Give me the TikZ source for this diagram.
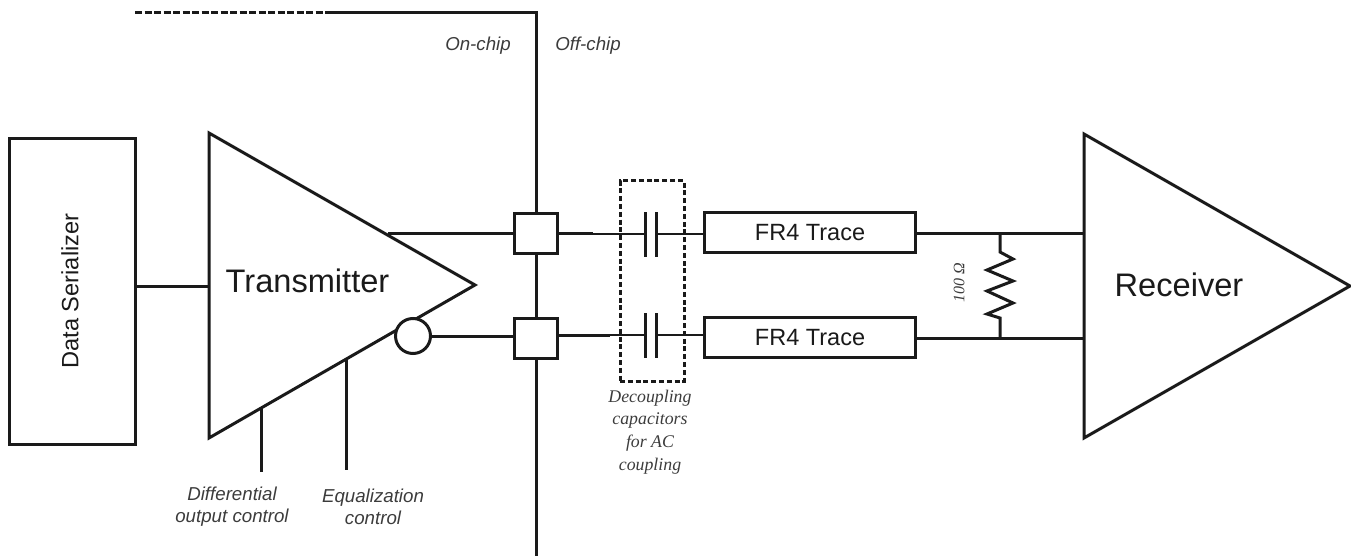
\documentclass[tikz,border=0pt]{standalone}
\usepackage{fontspec}
\setmainfont{Liberation Sans}
\newfontfamily\serifit[Ligatures=TeX]{Liberation Serif}
\definecolor{ink}{HTML}{1A1A1A}
\tikzset{
  wire/.style={draw=ink,line width=3pt},
  thin wire/.style={draw=ink,line width=2.2pt},
  padn/.style={draw=ink,line width=3pt,fill=white,inner sep=0pt,minimum width=43pt,minimum height=40pt},
  tracen/.style={draw=ink,line width=3pt,fill=white,inner sep=0pt,minimum width=211pt,minimum height=40pt,font=\fontsize{23.5}{26}\selectfont,text=ink},
  lab/.style={font=\fontsize{18.7}{22}\selectfont\itshape,text=ink!85,align=center,inner sep=0pt},
  serlab/.style={font=\fontsize{17.8}{22.6}\serifit\itshape,text=ink!85,align=center,inner sep=0pt},
  bigtext/.style={font=\fontsize{32.6}{36}\selectfont,text=ink}
}
\begin{document}
\begin{tikzpicture}[x=1pt,y=-1pt]
\useasboundingbox (0,0) rectangle (1351,556);
% chip boundary
\coordinate (bstart) at (135,13);
\coordinate (bmid) at (330,13);
\coordinate (bcorner) at (536,13);
\coordinate (bend) at (536,556);
\draw[wire,dash pattern=on 7pt off 2.5pt] (bstart) -- (bmid);
\draw[wire,line join=miter] (bmid) -- (bcorner) -- (bend);
\node[lab] (onchip) at (478,45.5) {On-chip};
\node[lab] (offchip) at (588,45.5) {Off-chip};
% serializer
\node[draw=ink,line width=3pt,fill=white,minimum width=126pt,minimum height=305pt,inner sep=0pt] (ser) at (72,291.5) {};
\node[rotate=90,font=\fontsize{23.6}{26}\selectfont,text=ink] (serl) at (70,291) {Data Serializer};
% transmitter
\coordinate (ta) at (209,133);
\coordinate (tb) at (475,285);
\coordinate (tc) at (209,438);
\draw[wire,fill=white,line join=miter] (ta) -- (tb) -- (tc) -- cycle;
\node[bigtext] (tl) at (307.5,281) {Transmitter};
\coordinate (tin) at (209,286);
\draw[wire] (ser.east |- tin) -- (tin);
\node[circle,draw=ink,line width=3pt,fill=white,minimum size=35pt,inner sep=0pt] (inv) at (413,336) {};
% pads
\node[padn] (p1) at (536,233) {};
\node[padn] (p2) at (536,338) {};
\coordinate (tout1) at (388,233);
\draw[wire] (tout1) -- (p1.west);
\draw[wire] (inv.east) -- (p2.west |- inv.east);
% controls
\coordinate (c1a) at (261,408);
\coordinate (c1b) at (261,472);
\coordinate (c2a) at (346,359);
\coordinate (c2b) at (346,470);
\draw[wire] (c1a) -- (c1b);
\draw[wire] (c2a) -- (c2b);
\node[lab] (l1) at (232,507) {Differential\\output control};
\node[lab] (l2) at (373,507) {Equalization\\control};
% traces
\node[tracen] (t1) at (810,232.5) {FR4 Trace};
\node[tracen] (t2) at (810,337.5) {FR4 Trace};
% capacitors
\coordinate (k1l) at (645,234);
\coordinate (k1r) at (656,234);
\coordinate (k2l) at (645,335);
\coordinate (k2r) at (656,335);
\coordinate (s1) at (593,233);
\coordinate (s2) at (610,335);
\draw[wire] (p1.east |- s1) -- (s1);
\draw[thin wire] (s1 |- k1l) -- (k1l);
\draw[thin wire] (k1r) -- (t1.west |- k1r);
\draw[wire] (p2.east |- s2) -- (s2);
\draw[thin wire] (s2) -- (k2l);
\draw[thin wire] (k2r) -- (t2.west |- k2r);
\draw[wire] (645,212) -- (645,257);
\draw[wire] (656,212) -- (656,257);
\draw[wire] (645,313) -- (645,358);
\draw[wire] (656,313) -- (656,358);
% decoupling box
\node[draw=ink,line width=3pt,dash pattern=on 5pt off 2.8pt,minimum width=64pt,minimum height=200pt,inner sep=0pt] (dec) at (652,281) {};
\node[serlab] (decl) at (650,432) {Decoupling\\capacitors\\for AC\\coupling};
% receiver
\coordinate (ra) at (1084,134);
\coordinate (rb) at (1350,286);
\coordinate (rc) at (1084,438);
\draw[wire,fill=white,line join=miter] (ra) -- (rb) -- (rc) -- cycle;
\node[bigtext] (rl) at (1179,285) {Receiver};
\coordinate (r1) at (1084,233.5);
\coordinate (r2) at (1084,338.5);
\draw[wire] (t1.east |- r1) -- (r1);
\draw[wire] (t2.east |- r2) -- (r2);
% resistor
\coordinate (j1) at (1000,233.5);
\coordinate (j2) at (1000,338.5);
\draw[wire,line join=miter] (j1) -- (1000,252) -- (1013,259) -- (987,270) -- (1013,281) -- (987,291) -- (1013,303) -- (987,314) -- (1000,318) -- (j2);
\node[serlab,rotate=90,font=\fontsize{16}{18}\serifit\itshape] (rlab) at (959,283) {100 Ω};
\end{tikzpicture}
\end{document}
